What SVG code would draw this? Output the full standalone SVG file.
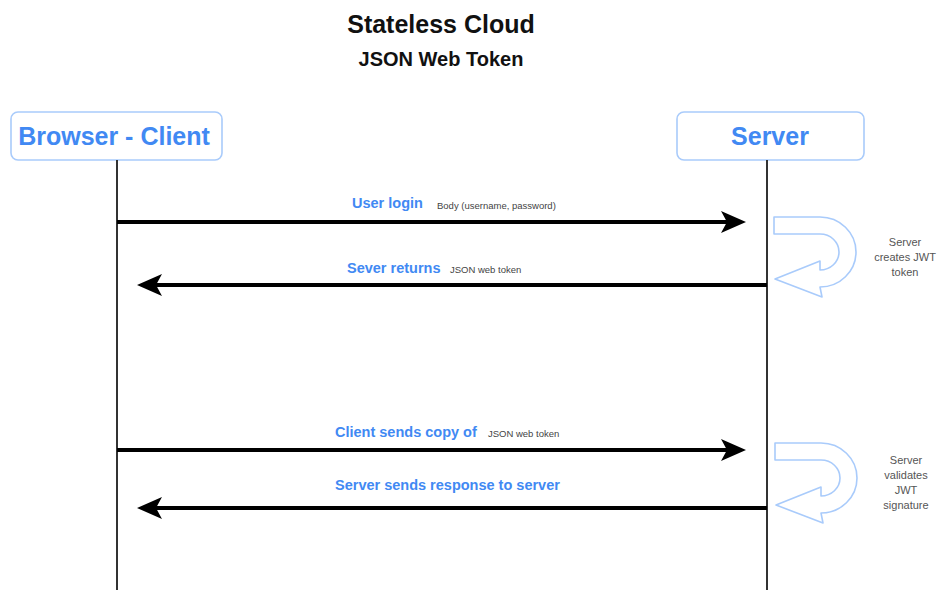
<svg xmlns="http://www.w3.org/2000/svg" width="940" height="590" viewBox="0 0 940 590">
<style>
.title{font-family:"Liberation Sans",Arial,sans-serif;font-weight:bold;fill:#111;text-anchor:middle}
.actor rect{fill:#fff;stroke:#a9cbfb;stroke-width:1.6}
.actor text{font-family:"Liberation Sans",Arial,sans-serif;font-weight:bold;font-size:25px;fill:#4189f3;text-anchor:middle}
.life{stroke:#333;stroke-width:2}
.msg{stroke:#000;stroke-width:4}
.head{fill:#000}
.lbl{font-family:"Liberation Sans",Arial,sans-serif;font-weight:bold;font-size:14.5px;fill:#4189f3}
.sm{font-family:"Liberation Sans",Arial,sans-serif;font-size:9.5px;fill:#444}
.note{font-family:"Liberation Sans",Arial,sans-serif;font-size:11px;fill:#555;text-anchor:middle}
.uturn{fill:#fff;stroke:#a9cbfb;stroke-width:1.6;stroke-linejoin:round}
</style>
<defs>
<path id="u" d="M774,217 L820,217 A36,35 0 0 1 820,287 L822,297 L775,279 L820,261 L820,270 A19,18 0 0 0 820,234 L774,234 Z"/>
</defs>
<rect width="940" height="590" fill="#fff"/>
<g id="title">
<text class="title" x="441" y="33" font-size="25">Stateless Cloud</text>
<text class="title" x="441" y="66" font-size="20">JSON Web Token</text>
</g>
<g id="client" class="actor">
<rect x="11" y="112" width="211" height="48" rx="7"/>
<text x="114" y="145">Browser - Client</text>
</g>
<g id="server" class="actor">
<rect x="677" y="112" width="187" height="48" rx="7"/>
<text x="770" y="145">Server</text>
</g>
<g id="connectors">
<line class="life" x1="117" y1="160" x2="117" y2="590"/>
<line class="life" x1="767" y1="160" x2="767" y2="590"/>
<line class="msg" x1="117" y1="222" x2="728" y2="222"/>
<path class="head" d="M746,222 L721,211 L727,222 L721,233 Z"/>
<line class="msg" x1="767" y1="285" x2="155" y2="285"/>
<path class="head" d="M137,285 L162,274 L156,285 L162,296 Z"/>
<line class="msg" x1="117" y1="450" x2="728" y2="450"/>
<path class="head" d="M746,450 L721,439 L727,450 L721,461 Z"/>
<line class="msg" x1="767" y1="508" x2="155" y2="508"/>
<path class="head" d="M137,508 L162,497 L156,508 L162,519 Z"/>
</g>
<g id="labels">
<text class="lbl" x="352" y="208">User login</text>
<text class="sm" x="437" y="209">Body (username, password)</text>
<text class="lbl" x="347" y="273">Sever returns</text>
<text class="sm" x="450" y="273">JSON web token</text>
<text class="lbl" x="335" y="437">Client sends copy of</text>
<text class="sm" x="488" y="437">JSON web token</text>
<text class="lbl" x="335" y="490">Server sends response to server</text>
</g>
<g id="create-jwt">
<use href="#u" class="uturn"/>
<text class="note" x="905" y="246">Server</text>
<text class="note" x="905" y="261">creates JWT</text>
<text class="note" x="905" y="276">token</text>
</g>
<g id="validate-jwt">
<use href="#u" class="uturn" transform="translate(1,226)"/>
<text class="note" x="906" y="464">Server</text>
<text class="note" x="906" y="479">validates</text>
<text class="note" x="906" y="494">JWT</text>
<text class="note" x="906" y="509">signature</text>
</g>
</svg>
